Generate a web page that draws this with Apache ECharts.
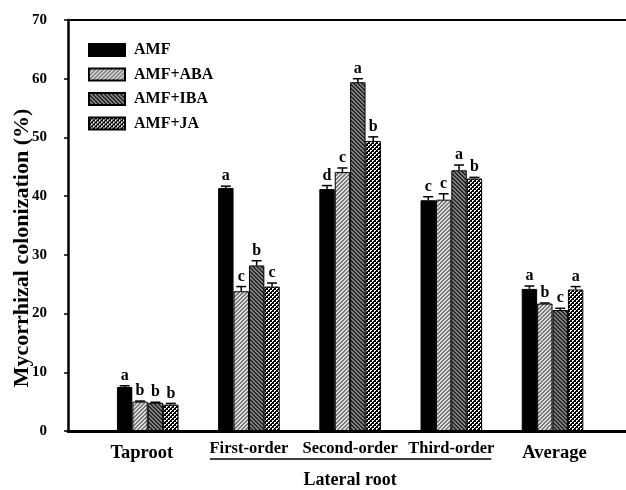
<!DOCTYPE html>
<html>
<head>
<meta charset="utf-8">
<script src="https://cdn.jsdelivr.net/npm/echarts@6/dist/echarts.min.js"></script>
<style>html,body{margin:0;padding:0;background:#fff}#c{width:626px;height:490px}</style>
</head>
<body>
<div id="c"></div>
<script>
// ---- data ----
var categories = ['Taproot', 'First-order', 'Second-order', 'Third-order', 'Average'];
var seriesNames = ['AMF', 'AMF+ABA', 'AMF+IBA', 'AMF+JA'];
var amf   = [7.5, 41.4, 41.2, 39.3, 24.2];
var aba   = [5.0, 23.8, 44.1, 39.4, 21.7];
var iba   = [4.8, 28.2, 59.4, 44.4, 20.6];
var ja    = [4.5, 24.6, 49.4, 43.0, 24.1];
var amfErr = [0.2, 0.3, 0.6, 0.6, 0.5];
var abaErr = [0.1, 0.8, 0.7, 1.0, 0.1];
var ibaErr = [0.1, 0.8, 0.6, 0.9, 0.3];
var jaErr  = [0.2, 0.6, 0.7, 0.2, 0.5];
var amfLet = ['a', 'a', 'd', 'c', 'a'];
var abaLet = ['b', 'c', 'c', 'c', 'b'];
var ibaLet = ['b', 'b', 'a', 'a', 'c'];
var jaLet  = ['b', 'c', 'b', 'b', 'a'];
var yTicks = [0, 10, 20, 30, 40, 50, 60, 70];
var yTitle = 'Mycorrhizal colonization (%)';
var groupTitle = 'Lateral root';

var values = [amf, aba, iba, ja];
var errs = [amfErr, abaErr, ibaErr, jaErr];
var lets = [amfLet, abaLet, ibaLet, jaLet];

// ---- patterns ----
function makePattern(size, fn) {
  var cv = document.createElement('canvas');
  cv.width = size; cv.height = size;
  var ctx = cv.getContext('2d');
  for (var x = 0; x < size; x++) for (var y = 0; y < size; y++) {
    ctx.fillStyle = fn(x, y);
    ctx.fillRect(x, y, 1, 1);
  }
  return { image: cv, repeat: 'repeat' };
}
var fills = [
  '#000000',
  makePattern(4, function (x, y) { return ((x + y) % 4) < 2 ? '#dcdcdc' : '#7a7a7a'; }),
  makePattern(4, function (x, y) { return ((x - y + 8) % 4) < 2 ? '#808080' : '#2a2a2a'; }),
  makePattern(4, function (x, y) { return ((x % 4 === 0 && y % 4 === 0) || (x % 4 === 2 && y % 4 === 2) || (x%4===1&&y%4===0)||(x%4===0&&y%4===1)||(x%4===3&&y%4===2)||(x%4===2&&y%4===3)) ? '#ffffff' : '#000000'; })
];

var BAR_W = 15.4;
var serif = '"Liberation Serif", "Times New Roman", serif';

var chart = echarts.init(document.getElementById('c'), null, { renderer: 'canvas' });

var series = [];
for (var s = 0; s < 4; s++) {
  series.push({
    name: seriesNames[s],
    type: 'bar',
    xAxisIndex: 0, yAxisIndex: 0,
    barWidth: BAR_W,
    barGap: '0%',
    itemStyle: { color: fills[s], borderColor: '#000', borderWidth: 1 },
    data: values[s].map(function (v, i) { return [i + 1, v]; }),
    z: 2
  });
}
// error bars + letters
var errData = [];
for (var s2 = 0; s2 < 4; s2++) for (var i = 0; i < 5; i++) errData.push([i + 1, values[s2][i], errs[s2][i], s2, lets[s2][i]]);
series.push({
  type: 'custom',
  xAxisIndex: 0, yAxisIndex: 0,
  silent: true,
  z: 5,
  data: errData,
  renderItem: function (params, api) {
    var x = api.value(0), v = api.value(1), e = api.value(2), si = api.value(3);
    var letter = errData[params.dataIndex][4];
    var p0 = api.coord([x, v]);
    var p1 = api.coord([x, v + e]);
    var cx = p0[0] + (si - 1.5) * BAR_W;
    var half = 5;
    return {
      type: 'group',
      children: [
        { type: 'line', shape: { x1: cx, y1: p0[1], x2: cx, y2: p1[1] }, style: { stroke: '#000', lineWidth: 1.5 } },
        { type: 'line', shape: { x1: cx - half, y1: p1[1], x2: cx + half, y2: p1[1] }, style: { stroke: '#000', lineWidth: 1.5 } },
        { type: 'text', x: cx, y: p1[1] - 2, style: { text: letter, textAlign: 'center', textVerticalAlign: 'bottom', font: 'bold 16px ' + serif, fill: '#000' } }
      ]
    };
  }
});

chart.setOption({
  animation: false,
  backgroundColor: '#fff',
  grid: { left: 68, right: 0, top: 20, bottom: 59, containLabel: false, outerBoundsMode: 'none' },
  legend: {
    orient: 'vertical',
    left: 88, top: 42, padding: 0,
    itemWidth: 36, itemHeight: 12, itemGap: 8.5,
    icon: 'rect',
    data: seriesNames,
    textStyle: { fontFamily: serif, fontWeight: 'bold', fontSize: 16, color: '#000', padding: [0, 0, 0, 4] },
    selectedMode: false
  },
  xAxis: [{
    type: 'value', min: 0.212, max: 5.726,
    axisLine: { show: true, lineStyle: { color: '#000', width: 3 } },
    axisTick: { show: false }, axisLabel: { show: false }, splitLine: { show: false }
  }, {
    type: 'value', position: 'top', min: 0.212, max: 5.726,
    axisLine: { show: true, onZero: false, lineStyle: { color: '#000', width: 2 } },
    axisTick: { show: false }, axisLabel: { show: false }, splitLine: { show: false }
  }],
  yAxis: {
    type: 'value', min: yTicks[0], max: yTicks[yTicks.length - 1], interval: 10,
    axisLine: { show: true, lineStyle: { color: '#000', width: 2.5 } },
    axisTick: { show: true, inside: false, length: 4, lineStyle: { color: '#000', width: 1.5 } },
    axisLabel: { fontFamily: serif, fontWeight: 'bold', fontSize: 15, color: '#000', margin: 21 },
    splitLine: { show: false }
  },
  series: series
});

// category labels and titles
var g = [];
var xs = categories.map(function (c, i) { return chart.convertToPixel({ xAxisIndex: 0 }, i + 1); });
var labelShift = [-6, 0, 0, 0, 2];
categories.forEach(function (c, i) {
  var lateral = (i >= 1 && i <= 3);
  g.push({ type: 'text', x: xs[i] + labelShift[i], y: lateral ? 449 : 453, style: { text: c, textAlign: 'center', textVerticalAlign: 'middle', font: 'bold ' + (lateral ? 16.5 : 18.5) + 'px ' + serif, fill: '#000' } });
});
g.push({ type: 'line', shape: { x1: xs[1] - 39, y1: 459, x2: xs[3] + 40, y2: 459 }, style: { stroke: '#000', lineWidth: 1.5 } });
g.push({ type: 'text', x: (xs[1] + xs[3]) / 2, y: 480, style: { text: groupTitle, textAlign: 'center', textVerticalAlign: 'middle', font: 'bold 18px ' + serif, fill: '#000' } });
g.push({ type: 'text', x: 22, y: 248, rotation: Math.PI / 2, style: { text: yTitle, textAlign: 'center', textVerticalAlign: 'middle', font: 'bold 22px ' + serif, fill: '#000' } });
chart.setOption({ graphic: g });
</script>
</body>
</html>
